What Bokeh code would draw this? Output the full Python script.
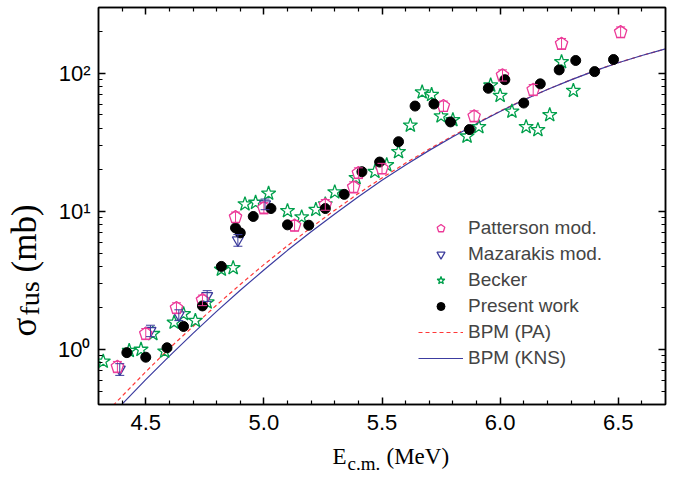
import math
from bokeh.plotting import figure
from bokeh.layouts import row, column
from bokeh.models import (ColumnDataSource, FixedTicker, LinearAxis, LogAxis, Range1d,
                          Label, Legend, LegendItem, Whisker, TeeHead,
                          CustomJSTickFormatter, PrintfTickFormatter)
from bokeh.embed import file_html
from bokeh.resources import INLINE

# ---------------- data ----------------
patterson_x = [4.38, 4.50, 4.63, 4.74, 4.88, 5.00, 5.13, 5.26, 5.38, 5.40, 5.50, 5.76, 5.89, 6.01, 6.14, 6.26, 6.51]
patterson_y = [0.75, 1.30, 2.00, 2.28, 9.1, 10.6, 7.9, 11.2, 15.0, 19.0, 20.5, 58, 49, 97, 76, 164, 199]
patterson_err = [0.07, 0.12, 0.18, 0.20, 0.8, 1.0, 0.7, 1.0, 1.4, 1.7, 1.8, 5, 4.5, 9, 7, 15, 18]

mazarakis_x = [4.39, 4.52, 4.64, 4.76, 4.89, 5.005]
mazarakis_y = [0.72, 1.37, 1.78, 2.45, 6.2, 11.3]
mazarakis_err = [0.07, 0.13, 0.16, 0.22, 0.6, 1.0]

becker_x = [4.32, 4.43, 4.48, 4.53, 4.58, 4.62, 4.66, 4.71, 4.76, 4.82, 4.87, 4.92, 4.965, 5.02,
            5.10, 5.16, 5.22, 5.26, 5.30, 5.39, 5.47, 5.52, 5.57, 5.62, 5.67, 5.71, 5.75, 5.80,
            5.86, 5.91, 5.96, 6.00, 6.05, 6.11, 6.16, 6.21, 6.26, 6.31]
becker_y = [0.82, 0.98, 1.00, 1.30, 0.97, 1.57, 1.81, 1.62, 2.2, 3.8, 3.9, 11.3, 11.6, 13.5,
            10.1, 9.1, 10.3, 11.3, 13.8, 17.5, 19.4, 21.7, 27, 42, 73, 70, 49, 46,
            35, 41, 82, 69, 53, 41, 39, 50, 121, 75]

present_x = [4.42, 4.50, 4.59, 4.66, 4.74, 4.82, 4.88, 4.90, 4.955, 5.03, 5.10, 5.19, 5.26, 5.34,
             5.415, 5.49, 5.57, 5.64, 5.72, 5.79, 5.87, 5.95, 6.02, 6.10, 6.17, 6.25, 6.32, 6.40, 6.48]
present_y = [0.95, 0.88, 1.03, 1.47, 2.07, 4.0, 7.6, 7.0, 9.2, 10.5, 8.0, 7.95, 10.5, 13.3,
             19.4, 22.8, 32, 58, 60, 44.5, 39.2, 78, 90, 61, 84, 106, 124, 103, 126]

bpm_e = [4.3, 4.4, 4.5, 4.6, 4.7, 4.8, 4.9, 5.0, 5.1, 5.2, 5.3, 5.4, 5.5, 5.6, 5.7, 5.8, 5.9,
         6.0, 6.1, 6.2, 6.3, 6.4, 6.5, 6.6, 6.7]
bpm_pa = [0.306, 0.46, 0.69, 1.02, 1.47, 2.10, 2.96, 4.12, 5.65, 7.65, 10.2, 13.5, 17.5, 22.4,
          28.3, 35.3, 43.6, 53.3, 64.3, 76.5, 89.9, 104.4, 119.5, 134.8, 150.4]
bpm_kns = [0.264, 0.403, 0.605, 0.896, 1.31, 1.89, 2.69, 3.77, 5.23, 7.13, 9.6, 12.8, 16.8, 21.7,
           27.7, 34.8, 43.2, 53.0, 64.1, 76.4, 89.8, 104.3, 119.4, 134.7, 150.3]

x_major = [4.5, 5.0, 5.5, 6.0, 6.5]
x_minor = [4.4, 4.6, 4.7, 4.8, 4.9, 5.1, 5.2, 5.3, 5.4, 5.6, 5.7, 5.8, 5.9, 6.1, 6.2, 6.3, 6.4, 6.6]
y_major = [1, 10, 100]
y_minor = [0.4, 0.5, 0.6, 0.7, 0.8, 0.9, 2, 3, 4, 5, 6, 7, 8, 9, 20, 30, 40, 50, 60, 70, 80, 90, 200, 300]

x_title = ["E", "c.m.", "(MeV)"]
y_title = ["\u03c3", "fus", "(mb)"]

# ---------------- colours ----------------
C_PAT = "#EC3A98"
C_MAZ = "#3C3C9C"
C_BEC = "#00A04C"
C_PA = "#FF3838"
C_KNS = "#3C3CA0"

LEFT_W = 52      # width of the strip holding the y title
BOTTOM_H = 40    # height of the strip holding the x title
MAIN_W = 680 - LEFT_W
MAIN_H = 480 - BOTTOM_H

p = figure(width=MAIN_W, height=MAIN_H, x_range=Range1d(4.3, 6.7), y_range=Range1d(0.4, 300),
           y_axis_type="log", output_backend="svg", toolbar_location=None,
           min_border_left=98 - LEFT_W, min_border_right=15, min_border_top=7,
           min_border_bottom=MAIN_H - 404)
p.xgrid.visible = False
p.ygrid.visible = False
p.outline_line_color = "black"
p.outline_line_width = 1.5
p.background_fill_color = "white"
p.border_fill_color = "white"

xt = FixedTicker(ticks=x_major, minor_ticks=x_minor)
yt = FixedTicker(ticks=y_major, minor_ticks=y_minor)
sup_fmt = CustomJSTickFormatter(code="""
const e = Math.round(Math.log10(tick));
const s = {'0':'\u2070','1':'\u00b9','2':'\u00b2','3':'\u00b3','-':'\u207b'};
return '10' + String(e).split('').map(c => s[c]).join('');
""")
blank = CustomJSTickFormatter(code="return ''")


def style(ax):
    ax.major_tick_in = 7
    ax.major_tick_out = 0
    ax.minor_tick_in = 4
    ax.minor_tick_out = 0
    ax.axis_line_width = 1.5
    ax.major_tick_line_width = 1.5
    ax.minor_tick_line_width = 1.2
    ax.major_label_text_font = "Liberation Sans"
    ax.major_label_text_font_size = "22px"
    ax.major_label_text_color = "black"


p.xaxis.ticker = xt
p.xaxis.formatter = PrintfTickFormatter(format="%.1f")
p.xaxis.major_label_standoff = 10
p.yaxis.ticker = yt
p.yaxis.formatter = sup_fmt
p.yaxis.major_label_standoff = 8
style(p.xaxis[0])
style(p.yaxis[0])

top = LinearAxis(ticker=xt, formatter=blank, major_label_standoff=0)
right = LogAxis(ticker=yt, formatter=blank, major_label_standoff=0)
style(top)
style(right)
p.add_layout(top, "above")
p.add_layout(right, "right")

# ---------------- curves ----------------
r_pa = p.line(bpm_e, bpm_pa, line_color=C_PA, line_width=1.2, line_dash="4 3")
r_kns = p.line(bpm_e, bpm_kns, line_color=C_KNS, line_width=1.2)

# ---------------- error bars ----------------
pat_src = ColumnDataSource(dict(x=patterson_x, y=patterson_y,
                                lo=[a - b for a, b in zip(patterson_y, patterson_err)],
                                hi=[a + b for a, b in zip(patterson_y, patterson_err)]))
maz_src = ColumnDataSource(dict(x=mazarakis_x, y=mazarakis_y,
                                lo=[a - b for a, b in zip(mazarakis_y, mazarakis_err)],
                                hi=[a + b for a, b in zip(mazarakis_y, mazarakis_err)]))
for src, col in ((pat_src, C_PAT), (maz_src, C_MAZ)):
    w = Whisker(source=src, base="x", lower="lo", upper="hi", line_color=col, line_width=1,
                upper_head=TeeHead(size=9, line_color=col, line_width=1),
                lower_head=TeeHead(size=9, line_color=col, line_width=1), level="glyph")
    p.add_layout(w)

# ---------------- markers ----------------
r_bec = p.scatter(becker_x, becker_y, marker="star", size=15, line_color=C_BEC, line_width=1.3,
                  fill_color=None)
r_maz = p.scatter("x", "y", source=maz_src, marker="inverted_triangle", size=11, line_color=C_MAZ,
                  line_width=1.3, fill_color="white")
if hasattr(p, "ngon"):
    r_pat = p.ngon("x", "y", source=pat_src, radius=6.5, radius_units="screen", n=5,
                   line_color=C_PAT, line_width=1.3, fill_color="white")
else:
    r_pat = p.scatter("x", "y", source=pat_src, marker="hex", size=12, line_color=C_PAT,
                      line_width=1.3, fill_color="white")
r_pres = p.scatter(present_x, present_y, marker="circle", size=10, line_color="black",
                   fill_color="black")

legend = Legend(items=[
    LegendItem(label="Patterson mod.", renderers=[r_pat]),
    LegendItem(label="Mazarakis mod.", renderers=[r_maz]),
    LegendItem(label="Becker", renderers=[r_bec]),
    LegendItem(label="Present work", renderers=[r_pres]),
    LegendItem(label="BPM (PA)", renderers=[r_pa]),
    LegendItem(label="BPM (KNS)", renderers=[r_kns]),
], location=(320, 35))
legend.border_line_color = None
legend.background_fill_alpha = 0
legend.label_text_font = "Liberation Sans"
legend.label_text_font_size = "19px"
legend.glyph_width = 45
legend.glyph_height = 20
legend.label_height = 20
legend.spacing = 4
legend.padding = 0
legend.margin = 0
legend.label_standoff = 5
p.add_layout(legend)


def strip(w, h):
    f = figure(width=w, height=h, x_range=Range1d(0, 1), y_range=Range1d(0, 1),
               output_backend="svg", toolbar_location=None, min_border=0,
               x_axis_location=None, y_axis_location=None, title_location=None)
    f.xgrid.visible = False
    f.ygrid.visible = False
    f.outline_line_color = None
    f.background_fill_color = "white"
    f.border_fill_color = "white"
    return f


serif = "Liberation Serif"

# x title strip (canvas coordinates of the strip: origin top-left)
xs = strip(MAIN_W, BOTTOM_H)
for txt, gx, gy, size in zip(x_title, (332, 347, 386), (456, 463, 456), ("23px", "19px", "23px")):
    xs.add_layout(Label(x=gx - LEFT_W, y=gy - MAIN_H, x_units="canvas", y_units="canvas", text=txt,
                        text_font=serif, text_font_size=size, text_color="black",
                        text_baseline="alphabetic", text_align="left"))

# y title strip
ys = strip(LEFT_W, 480)
for txt, gx, gy, size in zip(y_title, (24, 29, 24), (336, 315, 272), ("35px", "28px", "35px")):
    ys.add_layout(Label(x=gx, y=gy, x_units="canvas", y_units="canvas", text=txt,
                        text_font=serif, text_font_size=size, text_color="black",
                        text_baseline="alphabetic", text_align="left", angle=math.pi / 2))

layout = row(ys, column(p, xs, spacing=0), spacing=0)
open("out.html", "w").write(file_html(layout, INLINE))
